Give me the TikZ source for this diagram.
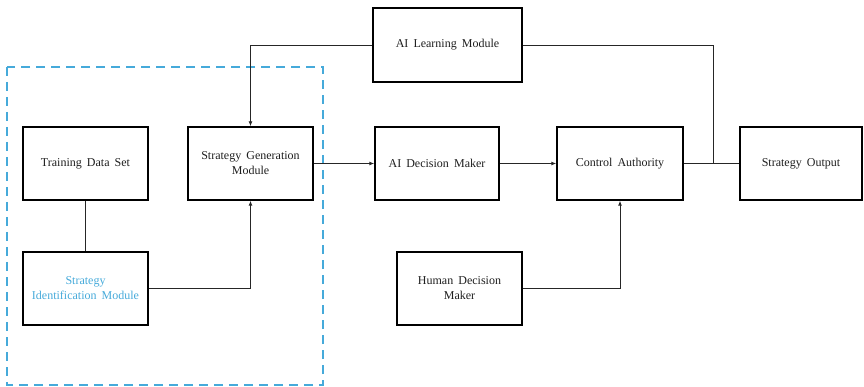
\documentclass[tikz,border=0pt]{standalone}
\usepackage{fontspec}
\setmainfont{Liberation Serif}[WordSpace=1.7]
\usetikzlibrary{arrows.meta}
\definecolor{dashblue}{RGB}{70,170,218}
\definecolor{txt}{RGB}{30,30,30}
\tikzset{
  blk/.style={draw=black, line width=1.4pt, minimum height=73pt, inner sep=2pt,
    align=center, text=txt, font=\fontsize{12}{15}\selectfont},
  conn/.style={draw=black!85, line width=0.9pt},
  arr/.style={conn, -{Latex[length=5pt,width=4pt]}},
  grp/.style={draw=dashblue, line width=2.5pt, dash pattern=on 9pt off 6pt}
}
\begin{document}
\begin{tikzpicture}[x=1pt,y=-1pt]
\useasboundingbox (0,0) rectangle (864,387);
\draw[grp] (7,67) rectangle (323,385);

\node[blk, minimum width=125pt] (tds) at (85.5,163.5) {Training Data Set};
\node[blk, minimum width=125pt, text=dashblue] (sim) at (85.5,288.5) {Strategy\\Identification Module};
\node[blk, minimum width=125pt] (sgm) at (250.5,163.5) {Strategy Generation\\Module};
\node[blk, minimum width=149pt, minimum height=74pt] (ail) at (447.5,45) {AI Learning Module};
\node[blk, minimum width=124pt] (aid) at (437,163.5) {AI Decision Maker};
\node[blk, minimum width=126pt] (ca) at (620,163.5) {Control Authority};
\node[blk, minimum width=122pt] (so) at (801,163.5) {Strategy Output};
\node[blk, minimum width=125pt] (hdm) at (459.5,288.5) {Human Decision\\Maker};
\coordinate (j) at (713,163.5);

\draw[conn] (tds.south) -- (sim.north);
\draw[arr] (ail.west) -| (sgm.north);
\draw[arr] (sim.east) -| (sgm.south);
\draw[arr] (sgm.east) -- (aid.west);
\draw[arr] (aid.east) -- (ca.west);
\draw[arr] (hdm.east) -| (ca.south);
\draw[conn] (ca.east) -- (so.west);
\draw[conn] (ail.east) -| (j);
\end{tikzpicture}
\end{document}
